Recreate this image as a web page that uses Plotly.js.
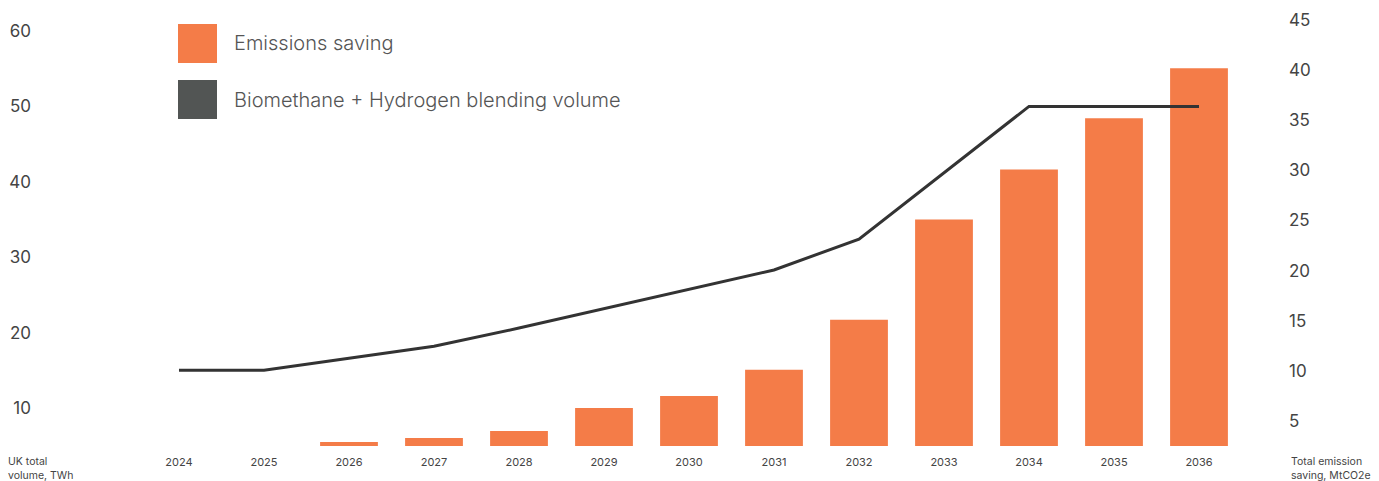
<!DOCTYPE html>
<html>
<head>
<meta charset="utf-8">
<script src="https://cdn.plot.ly/plotly-3.0.1.min.js"></script>
<style>html,body{margin:0;padding:0;background:#fff;}#chart{width:1379px;height:481px;}</style>
</head>
<body>
<div id="chart"></div>
<script>
const years = ["2024","2025","2026","2027","2028","2029","2030","2031","2032","2033","2034","2035","2036"];
const emissionsSaving = [0, 0, 2.9, 3.3, 4.0, 6.3, 7.5, 10.1, 15.1, 25.1, 30.1, 35.2, 40.2];
const blendingVolume = [15, 15, 16.6, 18.2, 20.6, 23.2, 25.7, 28.3, 32.4, 41.2, 50, 50, 50];
const leftTicks = [10, 20, 30, 40, 50, 60];
const rightTicks = [5, 10, 15, 20, 25, 30, 35, 40, 45];
const legendLabels = ["Emissions saving", "Biomethane + Hydrogen blending volume"];
const leftTitle = "UK total<br>volume, TWh";
const rightTitle = "Total emission<br>saving, MtCO2e";

const W = 1379, H = 481;
const ml = 35, mr = 91, mt = 15, mb = 35;
const pw = W - ml - mr, ph = H - mt - mb;
const px = v => (v - ml) / pw;
const py = v => (H - mb - v) / ph;

const orange = "#F47C48";
const grey = "#525554";
const font = "Inter, 'Open Sans', sans-serif";

const traces = [
  {
    type: "bar", x: years, y: emissionsSaving, yaxis: "y",
    name: legendLabels[0], width: 0.68,
    marker: {color: orange, line: {width: 0}}, hoverinfo: "x+y"
  },
  {
    type: "scatter", mode: "lines", x: years, y: blendingVolume, yaxis: "y2",
    name: legendLabels[1], line: {color: "#333333", width: 3}, hoverinfo: "x+y"
  }
];

const layout = {
  width: W, height: H,
  margin: {l: ml, r: mr, t: mt, b: mb, pad: 0},
  paper_bgcolor: "#ffffff", plot_bgcolor: "#ffffff",
  showlegend: false,
  font: {family: font, color: "#444444"},
  xaxis: {
    type: "category", range: [-1.694, 13.047],
    showgrid: false, zeroline: false, showline: false,
    ticks: "outside", ticklen: 6, tickcolor: "rgba(0,0,0,0)",
    tickfont: {size: 11, color: "#444444", family: font}
  },
  yaxis: {
    side: "right", range: [2.506, 45.5], tickvals: rightTicks,
    showgrid: false, zeroline: false, showline: false, ticks: "",
    tickfont: {size: 17, color: "#444444", family: font}
  },
  yaxis2: {
    side: "left", overlaying: "y", range: [4.96, 62.12], tickvals: leftTicks,
    showgrid: false, zeroline: false, showline: false, ticks: "",
    ticklabelstandoff: 3,
    tickfont: {size: 17, color: "#444444", family: font}
  },
  shapes: [
    {type: "rect", xref: "paper", yref: "paper", x0: px(178), x1: px(217), y0: py(24), y1: py(63), fillcolor: orange, line: {width: 0}},
    {type: "rect", xref: "paper", yref: "paper", x0: px(178), x1: px(217), y0: py(80), y1: py(119), fillcolor: grey, line: {width: 0}}
  ],
  annotations: [
    {xref: "paper", yref: "paper", x: px(232), y: py(43), xanchor: "left", yanchor: "middle", showarrow: false, text: legendLabels[0], font: {size: 20, color: "#555555", family: font, weight: 300}},
    {xref: "paper", yref: "paper", x: px(232), y: py(100), xanchor: "left", yanchor: "middle", showarrow: false, text: legendLabels[1], font: {size: 20, color: "#555555", family: font, weight: 300}},
    {xref: "paper", yref: "paper", x: px(6), y: py(468), xanchor: "left", yanchor: "middle", align: "left", showarrow: false, text: leftTitle, font: {size: 10.5, color: "#444444", family: font}},
    {xref: "paper", yref: "paper", x: px(1289), y: py(468), xanchor: "left", yanchor: "middle", align: "left", showarrow: false, text: rightTitle, font: {size: 10.5, color: "#444444", family: font}}
  ]
};

Plotly.newPlot("chart", traces, layout, {displayModeBar: false, staticPlot: true});
</script>
</body>
</html>
